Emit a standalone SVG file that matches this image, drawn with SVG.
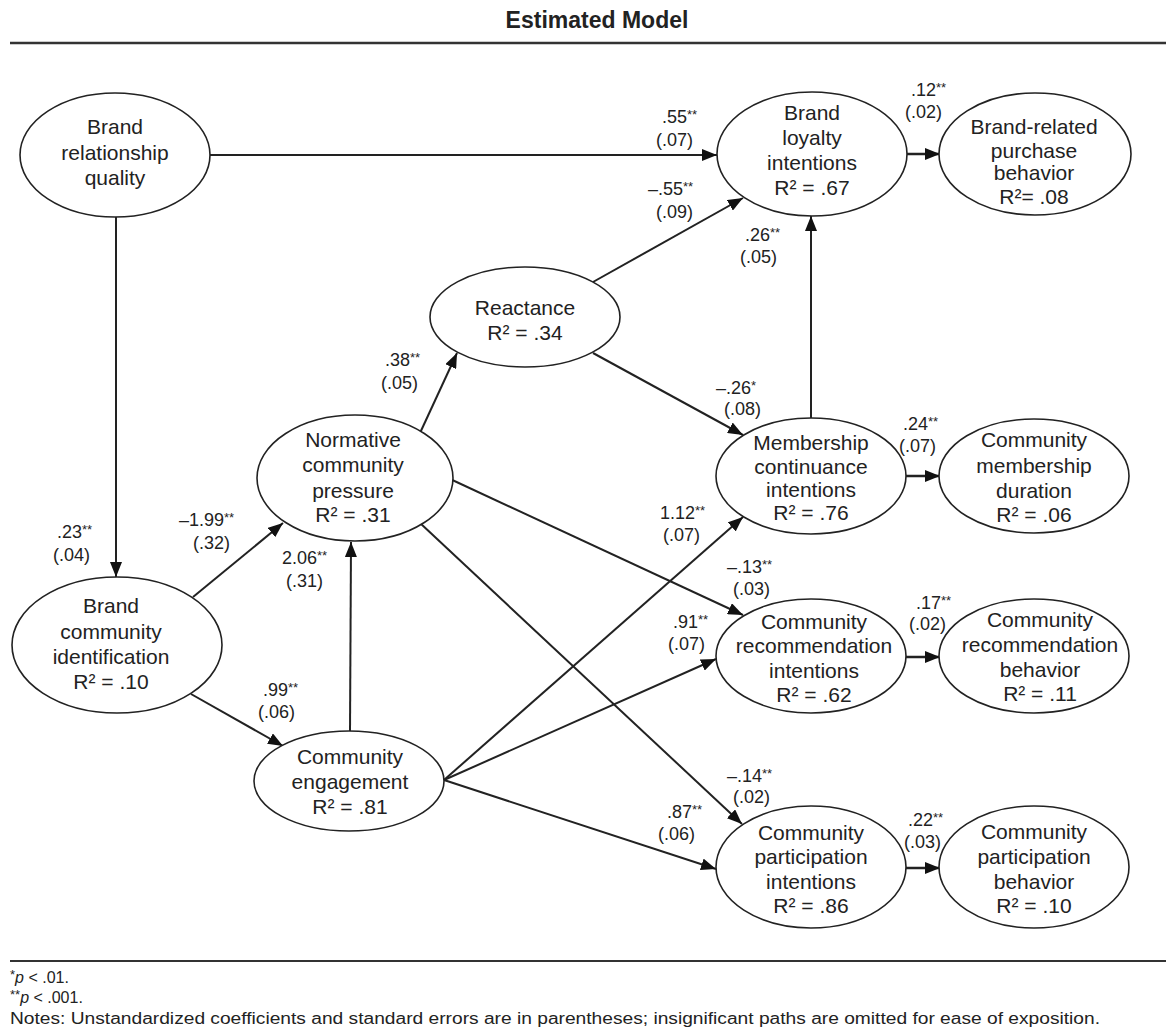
<svg xmlns="http://www.w3.org/2000/svg" width="1176" height="1030" viewBox="0 0 1176 1030">
  <style>
    text { font-family: "Liberation Sans", Arial, Helvetica, sans-serif; fill: #222; }
    .title { font-size: 23px; font-weight: bold; text-anchor: middle; }
    .node ellipse { fill: #fff; stroke: #222; stroke-width: 1.6; }
    .node text { font-size: 21px; text-anchor: middle; }
    .conn line { stroke: #222; stroke-width: 2; marker-end: url(#arrow); }
    .conn line.short { stroke-width: 2.6; }
    .lbl { font-size: 18px; }
    .sup { font-size: 13px; }
    .note { font-size: 16px; }
    .rule { stroke: #333; }
  </style>
  <defs>
    <marker id="arrow" markerUnits="userSpaceOnUse" markerWidth="15" markerHeight="12" refX="15" refY="6" orient="auto">
      <path d="M0,0 L15,6 L0,12 z" fill="#111"/>
    </marker>
  </defs>

  <rect width="1176" height="1030" fill="#fff"/>

  <!-- heading and rules -->
  <text class="title" x="597" y="28">Estimated Model</text>
  <line class="rule" x1="10" y1="43" x2="1166" y2="43" stroke-width="2.6"/>
  <line class="rule" x1="10" y1="961" x2="1166" y2="961" stroke-width="2"/>

  <!-- paths between constructs -->
  <g id="connectors" class="conn">
    <line x1="210" y1="155" x2="717" y2="155"/>
    <line x1="116" y1="217" x2="116" y2="577"/>
    <line x1="193" y1="597" x2="283" y2="523"/>
    <line x1="191" y1="694" x2="283" y2="746"/>
    <line x1="350" y1="731" x2="351" y2="542"/>
    <line x1="420" y1="433" x2="457" y2="353"/>
    <line x1="593" y1="282" x2="743" y2="198"/>
    <line x1="593" y1="353" x2="743" y2="435"/>
    <line x1="811" y1="418" x2="811" y2="216"/>
    <line x1="448" y1="478" x2="743" y2="615"/>
    <line x1="420" y1="523" x2="742" y2="824"/>
    <line x1="444" y1="780" x2="743" y2="517"/>
    <line x1="444" y1="780" x2="716" y2="659"/>
    <line x1="444" y1="780" x2="716" y2="869"/>
    <line class="short" x1="907" y1="154" x2="940" y2="154"/>
    <line class="short" x1="906" y1="476" x2="940" y2="476"/>
    <line class="short" x1="906" y1="657" x2="940" y2="657"/>
    <line class="short" x1="906" y1="868" x2="940" y2="868"/>
  </g>

  <!-- path coefficients -->
  <g id="coefficients" class="lbl">
    <text x="662" y="123">.55<tspan class="sup" dy="-4">**</tspan></text>
    <text x="656" y="146">(.07)</text>
    <text x="648" y="195">–.55<tspan class="sup" dy="-4">**</tspan></text>
    <text x="656" y="218">(.09)</text>
    <text x="745" y="241">.26<tspan class="sup" dy="-4">**</tspan></text>
    <text x="740" y="263">(.05)</text>
    <text x="911" y="96">.12<tspan class="sup" dy="-4">**</tspan></text>
    <text x="905" y="118">(.02)</text>
    <text x="716" y="394">–.26<tspan class="sup" dy="-4">*</tspan></text>
    <text x="724" y="415">(.08)</text>
    <text x="903" y="430">.24<tspan class="sup" dy="-4">**</tspan></text>
    <text x="899" y="452">(.07)</text>
    <text x="660" y="519">1.12<tspan class="sup" dy="-4">**</tspan></text>
    <text x="663" y="541">(.07)</text>
    <text x="727" y="573">–.13<tspan class="sup" dy="-4">**</tspan></text>
    <text x="733" y="595">(.03)</text>
    <text x="673" y="628">.91<tspan class="sup" dy="-4">**</tspan></text>
    <text x="668" y="650">(.07)</text>
    <text x="916" y="609">.17<tspan class="sup" dy="-4">**</tspan></text>
    <text x="909" y="630">(.02)</text>
    <text x="727" y="782">–.14<tspan class="sup" dy="-4">**</tspan></text>
    <text x="733" y="803">(.02)</text>
    <text x="667" y="818">.87<tspan class="sup" dy="-4">**</tspan></text>
    <text x="658" y="840">(.06)</text>
    <text x="908" y="826">.22<tspan class="sup" dy="-4">**</tspan></text>
    <text x="904" y="848">(.03)</text>
    <text x="57" y="538">.23<tspan class="sup" dy="-4">**</tspan></text>
    <text x="53" y="561">(.04)</text>
    <text x="179" y="526">–1.99<tspan class="sup" dy="-4">**</tspan></text>
    <text x="193" y="549">(.32)</text>
    <text x="282" y="564">2.06<tspan class="sup" dy="-4">**</tspan></text>
    <text x="286" y="587">(.31)</text>
    <text x="385" y="366">.38<tspan class="sup" dy="-4">**</tspan></text>
    <text x="381" y="389">(.05)</text>
    <text x="263" y="696">.99<tspan class="sup" dy="-4">**</tspan></text>
    <text x="258" y="718">(.06)</text>
  </g>

  <!-- constructs -->
  <g id="brand-relationship-quality" class="node">
    <ellipse cx="115" cy="155" rx="95" ry="62"/>
    <text x="115" y="134">Brand</text>
    <text x="115" y="160">relationship</text>
    <text x="115" y="185">quality</text>
  </g>
  <g id="brand-loyalty-intentions" class="node">
    <ellipse cx="812" cy="154" rx="95" ry="62"/>
    <text x="812" y="120">Brand</text>
    <text x="812" y="145">loyalty</text>
    <text x="812" y="170">intentions</text>
    <text x="812" y="195">R² = .67</text>
  </g>
  <g id="brand-related-purchase-behavior" class="node">
    <ellipse cx="1035" cy="154" rx="96" ry="61"/>
    <text x="1034" y="134">Brand-related</text>
    <text x="1034" y="158">purchase</text>
    <text x="1034" y="180">behavior</text>
    <text x="1034" y="204">R²= .08</text>
  </g>
  <g id="reactance" class="node">
    <ellipse cx="525" cy="317" rx="95" ry="50"/>
    <text x="525" y="315">Reactance</text>
    <text x="525" y="340">R² = .34</text>
  </g>
  <g id="normative-community-pressure" class="node">
    <ellipse cx="355" cy="478" rx="98" ry="63"/>
    <text x="353" y="447">Normative</text>
    <text x="353" y="472">community</text>
    <text x="353" y="498">pressure</text>
    <text x="353" y="522">R² = .31</text>
  </g>
  <g id="brand-community-identification" class="node">
    <ellipse cx="117" cy="645" rx="105" ry="68"/>
    <text x="111" y="613">Brand</text>
    <text x="111" y="639">community</text>
    <text x="111" y="664">identification</text>
    <text x="111" y="689">R² = .10</text>
  </g>
  <g id="community-engagement" class="node">
    <ellipse cx="349" cy="781" rx="95" ry="50"/>
    <text x="350" y="764">Community</text>
    <text x="350" y="789">engagement</text>
    <text x="350" y="814">R² = .81</text>
  </g>
  <g id="membership-continuance-intentions" class="node">
    <ellipse cx="811" cy="476" rx="95" ry="58"/>
    <text x="811" y="450">Membership</text>
    <text x="811" y="474">continuance</text>
    <text x="811" y="497">intentions</text>
    <text x="811" y="520">R² = .76</text>
  </g>
  <g id="community-membership-duration" class="node">
    <ellipse cx="1034" cy="476" rx="95" ry="57"/>
    <text x="1034" y="447">Community</text>
    <text x="1034" y="473">membership</text>
    <text x="1034" y="498">duration</text>
    <text x="1034" y="522">R² = .06</text>
  </g>
  <g id="community-recommendation-intentions" class="node">
    <ellipse cx="811" cy="656" rx="95" ry="57"/>
    <text x="814" y="629">Community</text>
    <text x="814" y="653">recommendation</text>
    <text x="814" y="678">intentions</text>
    <text x="814" y="702">R² = .62</text>
  </g>
  <g id="community-recommendation-behavior" class="node">
    <ellipse cx="1034" cy="656" rx="95" ry="57"/>
    <text x="1040" y="627">Community</text>
    <text x="1040" y="652">recommendation</text>
    <text x="1040" y="677">behavior</text>
    <text x="1040" y="701">R² = .11</text>
  </g>
  <g id="community-participation-intentions" class="node">
    <ellipse cx="811" cy="867" rx="95" ry="61"/>
    <text x="811" y="840">Community</text>
    <text x="811" y="864">participation</text>
    <text x="811" y="889">intentions</text>
    <text x="811" y="913">R² = .86</text>
  </g>
  <g id="community-participation-behavior" class="node">
    <ellipse cx="1034" cy="867" rx="95" ry="61"/>
    <text x="1034" y="839">Community</text>
    <text x="1034" y="864">participation</text>
    <text x="1034" y="889">behavior</text>
    <text x="1034" y="913">R² = .10</text>
  </g>

  <!-- footnotes -->
  <g id="footnotes" class="note">
    <text x="10" y="983"><tspan class="sup" dy="-4">*</tspan><tspan dy="4" font-style="italic">p</tspan> &lt; .01.</text>
    <text x="10" y="1003"><tspan class="sup" dy="-4">**</tspan><tspan dy="4" font-style="italic">p</tspan> &lt; .001.</text>
    <text x="10" y="1024" textLength="1090" lengthAdjust="spacingAndGlyphs">Notes: Unstandardized coefficients and standard errors are in parentheses; insignificant paths are omitted for ease of exposition.</text>
  </g>
</svg>
